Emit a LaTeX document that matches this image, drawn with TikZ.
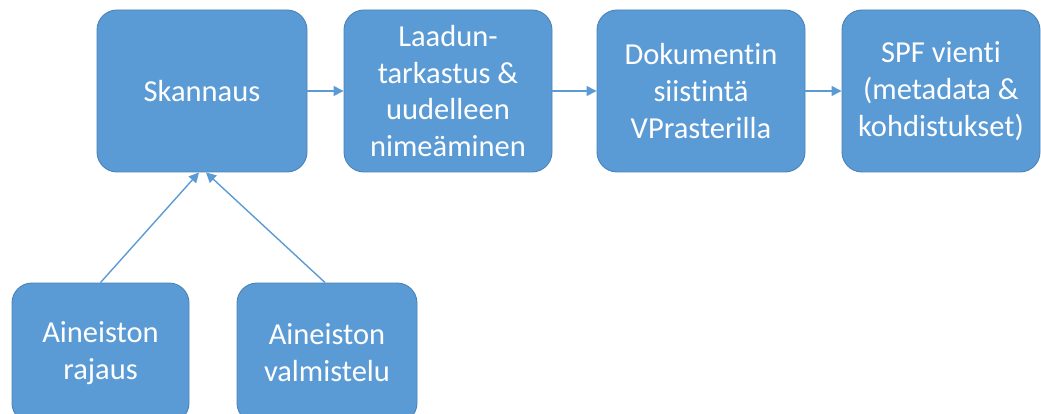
\documentclass[tikz,border=0pt]{standalone}
\usepackage{fontspec}
\setmainfont{Carlito}[RawFeature={-liga;-clig;-dlig;-calt;-rlig}]
\usetikzlibrary{arrows.meta}
\definecolor{boxfill}{HTML}{5B9BD5}
\definecolor{boxline}{HTML}{4A82B8}
\begin{document}
\begin{tikzpicture}[x=1pt,y=-1pt,
  stepbox/.style={draw=boxline, line width=0.9pt, fill=boxfill, rounded corners=20pt,
    inner sep=0pt, text=white, align=center, font=\fontsize{30.5}{36.8}\selectfont},
  conn/.style={draw=boxfill, line width=1.4pt, -{Triangle[length=10pt,width=10pt]}}]
\useasboundingbox (0,0) rectangle (1041,414);
\clip (0,0) rectangle (1041,414);
\node[stepbox, minimum width=210pt, minimum height=162pt] (skan) at (202,91) {Skannaus};
\node[stepbox, minimum width=208pt, minimum height=162pt] (laad) at (448,91) {Laadun-\\tarkastus \&\\uudelleen\\nimeäminen};
\node[stepbox, minimum width=208pt, minimum height=162pt] (doku) at (701,91) {Dokumentin\\siistintä\\VPrasterilla};
\node[stepbox, minimum width=198pt, minimum height=162pt] (spf) at (941,91) {SPF vienti\\(metadata \&\\kohdistukset)};
\node[stepbox, minimum width=177pt, minimum height=140pt] (raj) at (100.5,353) {Aineiston\\rajaus};
\node[stepbox, minimum width=180pt, minimum height=140pt] (val) at (327,353) {Aineiston\\valmistelu};
\draw[conn] (skan.east) -- (laad.west);
\draw[conn] (laad.east) -- (doku.west);
\draw[conn] (doku.east) -- (spf.west);
\coordinate (inA) at ([xshift=-3pt]skan.south);
\coordinate (inB) at ([xshift=4pt]skan.south);
\draw[conn] (raj.north) -- (inA);
\draw[conn] ([xshift=-2pt]val.north) -- (inB);
\end{tikzpicture}
\end{document}
